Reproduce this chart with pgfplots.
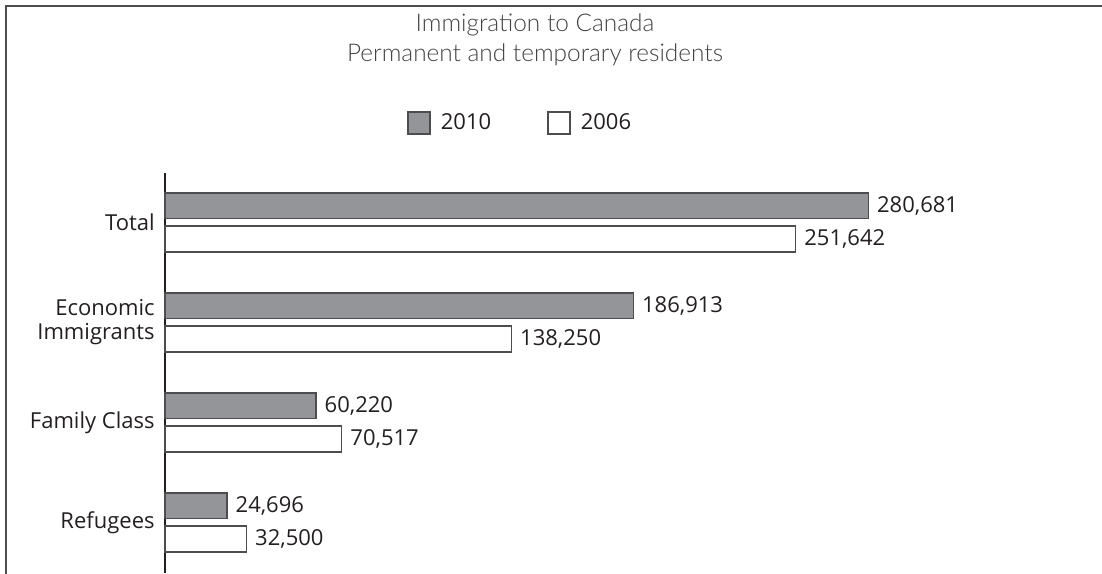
\documentclass[border=0pt]{standalone}
\usepackage{fontspec}
\setmainfont{Open Sans}
\newfontfamily\titlefont{Lato Light}
\usepackage{pgfplots}
\usepackage{pgfplotstable}
\pgfplotsset{compat=1.18}
\definecolor{barg}{HTML}{939598}
\definecolor{edge}{HTML}{4D4D4F}
\definecolor{txt}{HTML}{231F20}
\pgfplotstableread{
y v2010 l2010 v2006 l2006
0 280681 280,681 251642 251,642
1 186913 186,913 138250 138,250
2 60220 60,220 70517 70,517
3 24696 24,696 32500 32,500
}\data
\begin{document}
\begin{tikzpicture}
\useasboundingbox (0pt,0pt) rectangle (551pt,-286.5pt);
\draw[edge, line width=1pt] (3pt,-290pt) -- (3pt,-3pt) -- (555pt,-3pt);
\node[font=\titlefont\fontsize{12.2}{15}\selectfont, text=txt!85, align=center] at (267.5pt,-20pt) {Immigration to Canada\\Permanent and temporary residents};
\begin{axis}[
  at={(82.5pt,-286.5pt)}, anchor=south west,
  scale only axis, width=438.5pt, height=200pt,
  xbar, xmin=0, xmax=350000, ymin=-0.495, ymax=3.505, y dir=reverse,
  axis x line=none, axis y line=left,
  axis line style={-, line width=1pt, color=txt},
  ytick={0,1,2,3},
  yticklabels={Total, {Economic\\Immigrants}, Family Class, Refugees},
  yticklabel style={align=right, font=\fontsize{11}{12}\selectfont, text=txt, inner sep=0pt, xshift=-5pt},
  major tick length=0,
  bar width=0.255,
  point meta=explicit symbolic,
  nodes near coords,
  nodes near coords style={font=\fontsize{11}{13}\selectfont, text=txt, anchor=west, inner sep=4pt},
  legend columns=2,
  legend style={draw=none, fill=none, at={(0.269,1.125)}, anchor=west, font=\fontsize{11}{13}\selectfont, text=txt,
    /tikz/every even column/.append style={column sep=26pt}},
  clip=false,
]
\addplot[fill=barg, draw=edge, line width=0.8pt, bar shift=-0.168,
  legend image code/.code={\draw[fill=barg, draw=edge, line width=0.8pt] (0pt,-5.5pt) rectangle (11pt,5.5pt); \path (14pt,0pt);}]
  table[x=v2010, y=y, meta=l2010] {\data};
\addplot[fill=white, draw=edge, line width=0.8pt, bar shift=0.165,
  legend image code/.code={\draw[fill=white, draw=edge, line width=0.8pt] (0pt,-5.5pt) rectangle (11pt,5.5pt); \path (14pt,0pt);}]
  table[x=v2006, y=y, meta=l2006] {\data};
\legend{2010, 2006}
\end{axis}
\end{tikzpicture}
\end{document}
